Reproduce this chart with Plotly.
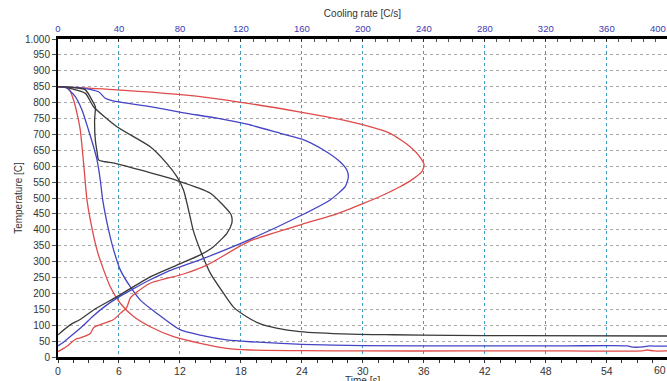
import plotly.graph_objects as go

# ---- cooling curves: temperature [C] against time [s] ----
red_time = [0, 1.04, 1.53, 1.87, 2.19, 2.52, 2.85, 3.18, 3.84, 4.49, 5.14, 6.13, 7.44, 9.08, 11.37, 14.0, 16.6, 18.9, 24, 30, 40, 50, 57.5, 58.0, 58.6, 60]
red_temp = [850, 845, 808, 766, 714, 609, 494, 431, 336, 274, 221, 169, 127, 95, 64, 43, 27, 22, 20, 19, 19, 19, 19, 22, 19, 19]

blue_time = [0, 0.7, 1.7, 2.36, 3.0, 3.5, 3.84, 4.16, 4.4, 4.98, 5.47, 6.13, 7.11, 8.1, 9.74, 12.0, 14.0, 16.6, 18.9, 24, 30, 40, 50, 56.0, 56.6, 57.6, 58.2, 59.0, 60]
blue_temp = [850, 849, 819, 777, 714, 661, 620, 557, 494, 399, 337, 274, 221, 179, 137, 86, 69, 54, 48, 40, 36, 35, 35, 35, 31, 32, 35, 34, 34]

black_time = [0, 1.2, 2.7, 3.5, 5.8, 9.08, 10.7, 11.7, 12.35, 13.0, 13.3, 14.0, 15.0, 16.3, 17.3, 18.6, 19.8, 21.5, 23.8, 28.8, 33, 38.6, 45, 60]
black_temp = [850, 845, 829, 787, 724, 661, 609, 567, 525, 441, 399, 336, 263, 200, 156, 126, 106, 91, 80, 72, 70, 68, 67, 66]

# ---- cooling-rate curves: temperature [C] against cooling rate [C/s] ----
red_rate = [0, 38.7, 82.4, 120, 160, 185, 200.4, 217.9, 231, 237.6, 240.2, 238.7, 232, 224.4, 213.3, 200.4, 183, 160, 126,
            97.7, 82.4, 60.5, 52, 47.4, 45, 41, 36.5, 25.6, 23.3, 21.2, 14.6, 11.3, 5.9, 2.6, 0]
red_rate_temp = [850, 840, 824, 801, 769.5, 747, 729.6, 703.5, 661, 628, 604, 583, 557, 535.5, 509.4, 483, 450, 417, 365,
                 289, 261, 232, 205, 185, 155, 138, 118, 98, 92, 74, 60, 55, 34, 24, 17]

blue_rate = [0, 16.8, 26.6, 31, 35.4, 60.5, 82.4, 104.3, 124, 145.8, 160, 174.2, 185, 189.5, 190.5, 188.4, 178.5, 160, 126,
             95.5, 71.5, 60.5, 49.6, 38.7, 31, 23.3, 16.8, 10, 4, 0]
blue_rate_temp = [850, 845, 834, 813.5, 806, 787, 768, 751, 732, 703.5, 685, 651, 614, 588, 567, 535.5, 494, 446.5, 370,
                  310, 268, 243, 215, 185, 160, 130, 100, 72, 48, 35]

black_rate = [0, 17.9, 22.3, 24.5, 24, 24.5, 25.6, 26.6, 31, 37.6, 78, 100, 113, 114, 114, 110.8, 102, 93.3, 78, 60.5,
              38.7, 23.3, 14.5, 8, 0]
black_rate_temp = [850, 840, 808, 787, 745, 682, 646, 620, 614, 609, 555, 515, 452, 441, 420, 389, 347, 321, 289, 252,
                   190, 148, 118, 101, 70]

# ---- axis ticks ----
time_ticks = [0, 6, 12, 18, 24, 30, 36, 42, 48, 54, 60]
rate_ticks = [0, 40, 80, 120, 160, 200, 240, 280, 320, 360, 400]
temp_ticks = [0, 50, 100, 150, 200, 250, 300, 350, 400, 450, 500, 550, 600, 650, 700, 750, 800, 850, 900, 950, 1000]
temp_tick_text = ["0", "50", "100", "150", "200", "250", "300", "350", "400", "450", "500", "550", "600", "650",
                  "700", "750", "800", "850", "900", "950", "1.000"]

RED = "#e04a4a"
BLUE = "#4444c4"
BLACK = "#3a3a3a"
TOP_BLUE = "#3a3ab4"
FONT = "Liberation Sans, Arial, sans-serif"

TIME_END = 59.93
RATE_END = TIME_END * 400 / 60

fig = go.Figure()

line_style = dict(width=1.3, shape="spline", smoothing=0.6)
for t, y, c in [(red_time, red_temp, RED), (blue_time, blue_temp, BLUE), (black_time, black_temp, BLACK)]:
    fig.add_trace(go.Scatter(x=t, y=y, mode="lines", line=dict(color=c, **line_style),
                             xaxis="x", yaxis="y", showlegend=False, hoverinfo="skip"))
for r, y, c in [(red_rate, red_rate_temp, RED), (blue_rate, blue_rate_temp, BLUE), (black_rate, black_rate_temp, BLACK)]:
    fig.add_trace(go.Scatter(x=r, y=y, mode="lines", line=dict(color=c, **line_style),
                             xaxis="x2", yaxis="y", showlegend=False, hoverinfo="skip"))

# tick labels that fall just past the right edge are only partly visible
annotations = []
for v in time_ticks:
    if v > TIME_END:
        annotations.append(dict(x=v / TIME_END, xref="paper", y=0, yref="paper", yanchor="top", yshift=-5,
                                text=str(v), showarrow=False, font=dict(size=10.5, color="#333", family=FONT)))
for v in rate_ticks:
    if v > RATE_END:
        annotations.append(dict(x=v / RATE_END, xref="paper", y=1, yref="paper", yanchor="bottom", yshift=3,
                                text=str(v), showarrow=False, font=dict(size=9.5, color=TOP_BLUE, family=FONT)))

# time-axis title, centred under the full 0-60 s span and sitting at the lower edge
annotations.append(dict(x=(time_ticks[-1] / 2) / TIME_END, xref="paper", y=0, yref="paper",
                        yanchor="top", yshift=-16, text="Time [s]", showarrow=False,
                        font=dict(size=10, color="#333", family=FONT)))

fig.update_layout(
    width=667, height=381,
    margin=dict(l=58, r=0, t=39, b=24),
    paper_bgcolor="white", plot_bgcolor="white",
    font=dict(family=FONT, size=10, color="#333"),
    xaxis=dict(
        range=[0, TIME_END], tickmode="array", tickvals=time_ticks,
        showgrid=True, gridcolor="#3f9cc4", griddash="dot", gridwidth=1,
        showline=True, linecolor="black", linewidth=2.5,
        ticks="outside", ticklen=3, tickcolor="#333",
        minor=dict(tickmode="linear", tick0=0, dtick=1.5, ticks="outside", ticklen=3, tickcolor="#333", showgrid=False),
        tickfont=dict(size=10.5, color="#333"),
        zeroline=False, automargin=False,
    ),
    xaxis2=dict(
        overlaying="x", side="top", anchor="y",
        range=[0, RATE_END], tickmode="array", tickvals=rate_ticks,
        showgrid=False, showline=True, linecolor="black", linewidth=3,
        ticks="inside", ticklen=3, tickcolor="#333",
        minor=dict(tickmode="linear", tick0=0, dtick=8, ticks="inside", ticklen=3, tickcolor="#555"),
        tickfont=dict(size=9.5, color=TOP_BLUE),
        title=dict(text="Cooling rate [C/s]", font=dict(size=10, color="#333"), standoff=4),
        zeroline=False, automargin=False,
    ),
    yaxis=dict(
        range=[0, 1000], tickmode="array", tickvals=temp_ticks, ticktext=temp_tick_text,
        showgrid=True, gridcolor="#a9a9a9", griddash="3px,3px", gridwidth=1,
        showline=True, linecolor="black", linewidth=2,
        ticks="outside", ticklen=4, tickcolor="#555",
        tickfont=dict(size=10, color="#333"),
        title=dict(text="Temperature [C]", font=dict(size=10, color="#333"), standoff=0),
        zeroline=False, automargin=False,
    ),
    annotations=annotations,
)

fig.write_html("out.html")
